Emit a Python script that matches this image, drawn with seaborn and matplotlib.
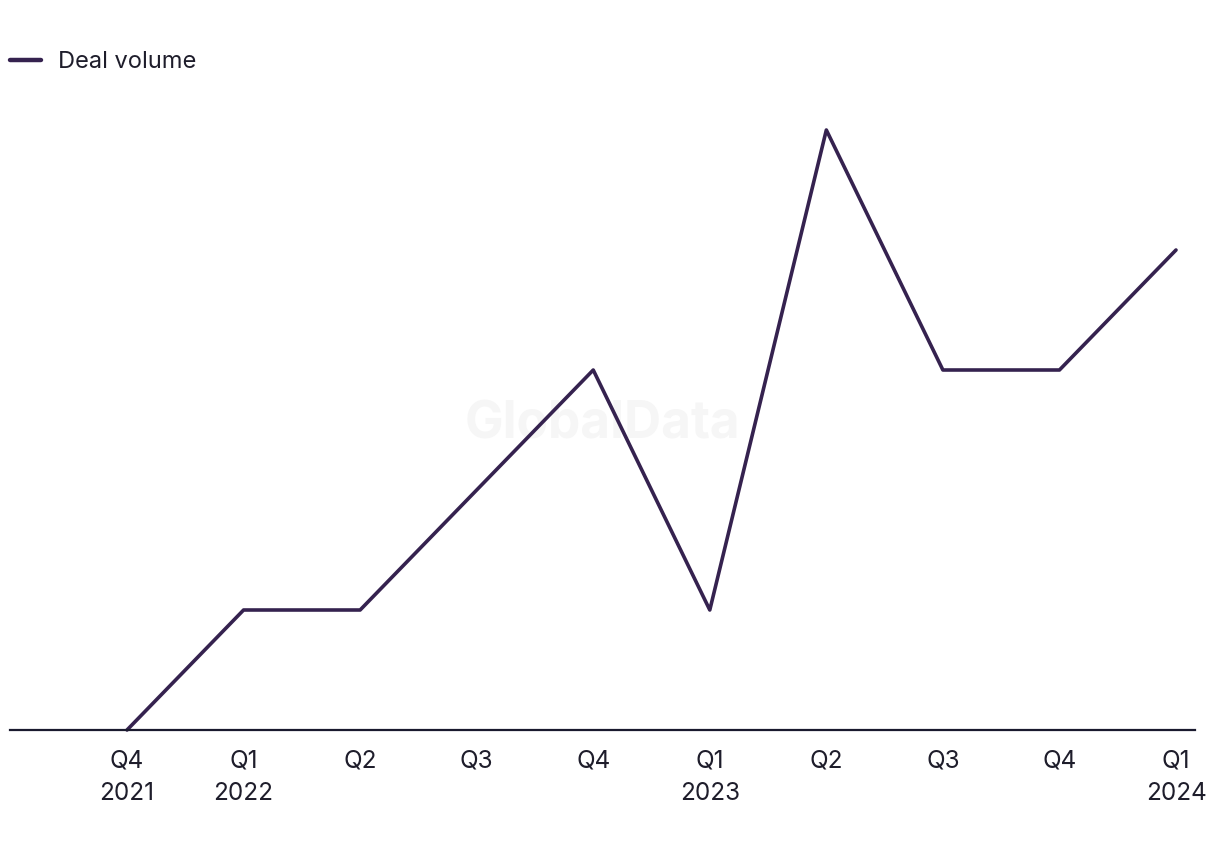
import matplotlib
matplotlib.use("Agg")
import matplotlib.pyplot as plt
import seaborn as sns
import pandas as pd

quarters = ["Q4\n2021", "Q1\n2022", "Q2", "Q3", "Q4", "Q1\n2023", "Q2", "Q3", "Q4", "Q1\n2024"]
deal_volume = [0, 1, 1, 2, 3, 1, 5, 3, 3, 4]

sns.set_theme(style="white")
plt.rcParams['font.family'] = ['Inter', 'DejaVu Sans']

LINE = "#35224f"
TEXT = "#1e1d2b"

df = pd.DataFrame({"idx": range(len(quarters)), "Deal volume": deal_volume})

fig = plt.figure(figsize=(12.2, 8.5), dpi=100)
ax = fig.add_axes([10/1220, 120/850, 1185/1220, 630/850])

sns.lineplot(data=df, x="idx", y="Deal volume", ax=ax, color=LINE, linewidth=2.6,
             label="Deal volume", clip_on=False)

ax.set_xlim(-1.004, 9.163)
ax.set_ylim(0, 5.25)
ax.set_xticks(range(len(quarters)))
ax.set_xticklabels(quarters, fontsize=17.5, color=TEXT, linespacing=1.55)
ax.tick_params(axis="x", length=0, pad=14)
ax.set_yticks([])
ax.set_xlabel("")
ax.set_ylabel("")
for s in ["top", "right", "left"]:
    ax.spines[s].set_visible(False)
ax.spines["bottom"].set_color("#1a1a2e")
ax.spines["bottom"].set_linewidth(1.6)

ax.text(0.5, (850-425-120)/630, "GlobalData", transform=ax.transAxes, ha="center", va="center",
        fontsize=37, fontweight="bold", color="#f6f6f6", zorder=0)

leg = ax.legend(loc="center left", bbox_to_anchor=(10/1220, 1 - 62/850), bbox_transform=fig.transFigure,
                frameon=False, fontsize=17, handlelength=1.3, handletextpad=0.75, borderaxespad=0,
                borderpad=0)
for t in leg.get_texts():
    t.set_color(TEXT)
for h in leg.get_lines():
    h.set_linewidth(3.2)
    h.set_solid_capstyle("round")

fig.savefig("out.png", dpi=100)
